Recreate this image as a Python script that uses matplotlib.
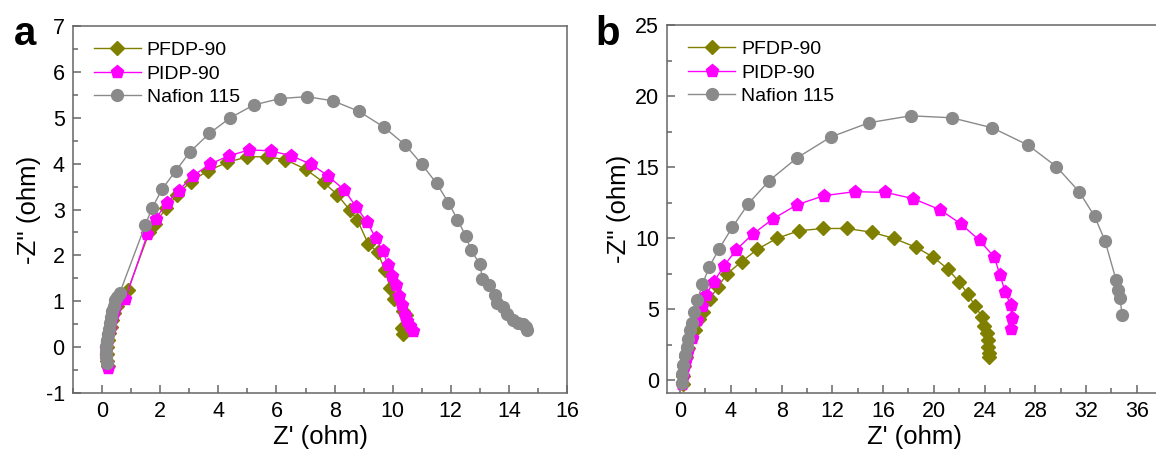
import matplotlib.pyplot as plt
from matplotlib.ticker import MultipleLocator

plt.rcParams['font.family'] = ['Liberation Sans', 'DejaVu Sans']
plt.rcParams['axes.unicode_minus'] = False

# ---- panel a data (Z', -Z'') ----
a_pfdp_x = [0.20, 0.17, 0.16, 0.17, 0.20, 0.24, 0.29, 0.35, 0.42, 0.50, 0.60, 0.89,
            1.62, 1.82, 2.20, 2.58, 3.05, 3.63, 4.31, 5.00, 5.66, 6.30, 7.00, 7.63,
            8.10, 8.52, 8.78, 9.16, 9.48, 9.73, 9.92, 10.05, 10.37, 10.47, 10.31, 10.37]
a_pfdp_y = [-0.42, -0.30, -0.15, 0.00, 0.15, 0.30, 0.45, 0.60, 0.75, 0.90, 1.05, 1.25,
            2.50, 2.69, 3.03, 3.32, 3.61, 3.84, 4.03, 4.15, 4.15, 4.09, 3.88, 3.59,
            3.32, 2.99, 2.78, 2.25, 2.07, 1.69, 1.29, 1.04, 0.78, 0.71, 0.42, 0.28]

a_pidp_x = [0.20, 0.16, 0.14, 0.15, 0.17, 0.21, 0.26, 0.31, 0.37, 0.44, 0.52, 0.80,
            1.56, 1.84, 2.23, 2.63, 3.12, 3.71, 4.36, 5.06, 5.81, 6.51, 7.19, 7.76,
            8.33, 8.75, 9.13, 9.41, 9.67, 9.83, 9.99, 10.11, 10.22, 10.31, 10.41, 10.50,
            10.60, 10.69]
a_pidp_y = [-0.46, -0.35, -0.20, -0.05, 0.10, 0.25, 0.40, 0.55, 0.70, 0.85, 0.98, 1.05,
            2.46, 2.80, 3.14, 3.41, 3.73, 3.99, 4.17, 4.30, 4.28, 4.17, 3.99, 3.74,
            3.43, 3.05, 2.72, 2.38, 2.09, 1.80, 1.56, 1.35, 1.11, 0.91, 0.71, 0.57,
            0.46, 0.36]

a_naf_x = [0.18, 0.15, 0.14, 0.14, 0.16, 0.19, 0.22, 0.26, 0.30, 0.35, 0.40, 0.46,
           0.52, 0.60, 1.49, 1.72, 2.06, 2.54, 3.03, 3.69, 4.41, 5.22, 6.13, 7.04,
           7.95, 8.84, 9.69, 10.43, 11.00, 11.51, 11.92, 12.23, 12.51, 12.70, 13.00,
           13.09, 13.31, 13.51, 13.59, 13.80, 13.93, 14.15, 14.31, 14.50, 14.60, 14.62]
a_naf_y = [-0.35, -0.22, -0.10, 0.02, 0.15, 0.28, 0.40, 0.53, 0.66, 0.79, 0.90, 1.02,
           1.10, 1.17, 2.67, 3.03, 3.44, 3.85, 4.26, 4.66, 5.00, 5.28, 5.42, 5.46,
           5.37, 5.14, 4.80, 4.41, 3.99, 3.57, 3.15, 2.78, 2.43, 2.11, 1.81,
           1.49, 1.36, 1.14, 0.96, 0.87, 0.72, 0.60, 0.53, 0.51, 0.44, 0.38]

# ---- panel b data ----
b_pfdp_x = [0.20, 0.20, 0.30, 0.45, 0.65, 0.90, 1.15, 1.50, 1.80, 2.33, 2.97, 3.69,
            4.85, 6.10, 7.62, 9.36, 11.28, 13.14, 15.09, 16.86, 18.58, 19.97, 21.08,
            21.98, 22.67, 23.26, 23.78, 23.98, 24.19, 24.24, 24.30, 24.36, 24.36]
b_pfdp_y = [-0.30, 0.30, 1.00, 1.60, 2.30, 3.00, 3.57, 4.30, 4.82, 5.72, 6.54, 7.48,
            8.35, 9.22, 9.98, 10.52, 10.68, 10.68, 10.42, 9.98, 9.36, 8.66, 7.84,
            6.94, 6.07, 5.22, 4.47, 3.81, 3.29, 2.82, 2.35, 1.93, 1.65]

b_pidp_x = [0.15, 0.20, 0.30, 0.45, 0.66, 0.92, 1.36, 1.72, 2.02, 2.67, 3.46, 4.42,
            5.73, 7.33, 9.22, 11.34, 13.78, 16.19, 18.37, 20.49, 22.15, 23.60, 24.77,
            25.22, 25.62, 26.05, 26.15, 26.05]
b_pidp_y = [-0.30, 0.30, 0.90, 1.50, 2.16, 3.00, 4.23, 5.22, 5.99, 6.94, 8.03, 9.18,
            10.28, 11.36, 12.35, 12.99, 13.27, 13.22, 12.78, 12.00, 10.99, 9.84, 8.66,
            7.39, 6.23, 5.28, 4.40, 3.60]

b_naf_x = [0.13, 0.18, 0.26, 0.39, 0.52, 0.65, 0.79, 0.92, 1.10, 1.36, 1.76, 2.30,
           3.08, 4.13, 5.38, 7.03, 9.22, 11.86, 14.88, 18.17, 21.42, 24.62, 27.44,
           29.65, 31.45, 32.67, 33.49, 34.36, 34.53, 34.65, 34.85]
b_naf_y = [-0.23, 0.47, 1.06, 1.76, 2.35, 2.93, 3.52, 4.04, 4.81, 5.63, 6.74, 7.98,
           9.25, 10.78, 12.42, 14.05, 15.65, 17.11, 18.12, 18.61, 18.47, 17.76, 16.54,
           15.04, 13.27, 11.53, 9.81, 7.06, 6.35, 5.81, 4.61]

labels = ['PFDP-90', 'PIDP-90', 'Nafion 115']
colors = ['#808000', '#ff00ff', '#8a8a8a']
markers = ['D', 'p', 'o']
msizes = [7, 9.5, 8.5]

spine_c = '#666666'

fig = plt.figure(figsize=(11.56, 4.57), dpi=100)
ax1 = fig.add_axes([0.0632, 0.140, 0.4273, 0.803])
ax2 = fig.add_axes([0.5773, 0.140, 0.4281, 0.8053])


def draw(ax, series):
    for (x, y), lab, c, m, ms in zip(series, labels, colors, markers, msizes):
        ax.plot(x, y, color=c, lw=1, marker=m, ms=ms, mfc=c, mec=c, label=lab)
    for s in ax.spines.values():
        s.set_color(spine_c)
        s.set_linewidth(1.1)
    ax.tick_params(which='both', direction='in', color=spine_c, labelsize=15.5,
                   top=False, right=False, width=1.1, pad=6)
    ax.tick_params(which='major', length=6)
    ax.tick_params(which='minor', length=3.5)
    ax.set_xlabel("Z' (ohm)", fontsize=18.5, labelpad=2)
    ax.set_ylabel("-Z'' (ohm)", fontsize=18.5, labelpad=3)
    ax.legend(loc='upper left', frameon=False, fontsize=14, handlelength=2.4,
              handletextpad=0.3, labelspacing=0.3, borderaxespad=0.3,
              bbox_to_anchor=(0.015, 0.995))


draw(ax1, [(a_pfdp_x, a_pfdp_y), (a_pidp_x, a_pidp_y), (a_naf_x, a_naf_y)])
ax1.set_xlim(-1, 16)
ax1.set_ylim(-1, 7)
ax1.xaxis.set_major_locator(MultipleLocator(2))
ax1.xaxis.set_minor_locator(MultipleLocator(1))
ax1.yaxis.set_major_locator(MultipleLocator(1))
ax1.yaxis.set_minor_locator(MultipleLocator(0.5))
ax1.set_xticks(range(0, 17, 2))

draw(ax2, [(b_pfdp_x, b_pfdp_y), (b_pidp_x, b_pidp_y), (b_naf_x, b_naf_y)])
ax2.set_xlim(-1, 38)
ax2.set_ylim(-0.9, 25)
ax2.xaxis.set_major_locator(MultipleLocator(4))
ax2.xaxis.set_minor_locator(MultipleLocator(2))
ax2.yaxis.set_major_locator(MultipleLocator(5))
ax2.yaxis.set_minor_locator(MultipleLocator(2.5))
ax2.set_xticks(range(0, 37, 4))

fig.text(0.022, 0.925, 'a', fontsize=29, fontweight='bold', ha='center', va='center')
fig.text(0.526, 0.925, 'b', fontsize=29, fontweight='bold', ha='center', va='center')

fig.savefig('out.png', dpi=100, facecolor='white')
